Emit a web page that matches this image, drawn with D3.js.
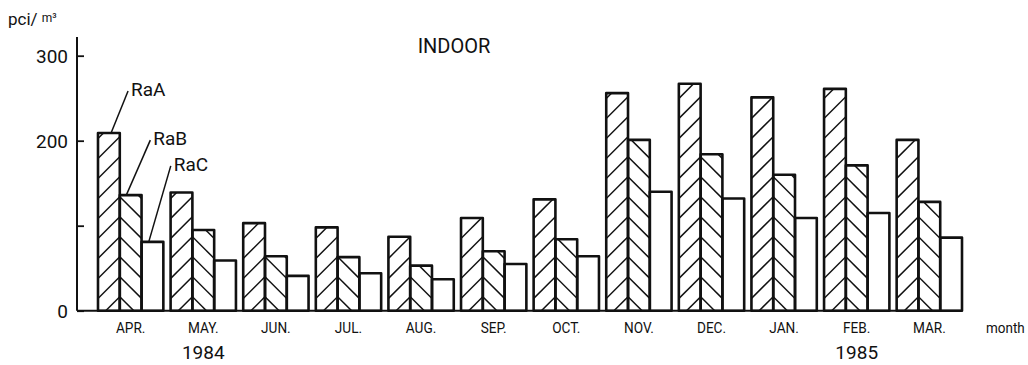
<!DOCTYPE html>
<html>
<head>
<meta charset="utf-8">
<script src="https://cdn.jsdelivr.net/npm/d3@7"></script>
<style>
  html, body { margin: 0; padding: 0; background: #fff; }
  svg { display: block; }
  text { font-family: Roboto, "Liberation Sans", sans-serif; fill: #111; }
</style>
</head>
<body>
<svg id="chart" width="1028" height="365"></svg>
<script>
// Monthly indoor concentrations of radon daughters (pCi/m³), Apr 1984 – Mar 1985
const months = ["APR.", "MAY.", "JUN.", "JUL.", "AUG.", "SEP.", "OCT.", "NOV.", "DEC.", "JAN.", "FEB.", "MAR."];
const series = ["RaA", "RaB", "RaC"];
const raA = [209, 139, 103, 98, 87, 109, 131, 256, 267, 251, 261, 201];
const raB = [136, 95, 64, 63, 53, 70, 84, 201, 184, 160, 171, 128];
const raC = [81, 59, 41, 44, 37, 55, 64, 140, 132, 109, 115, 86];
const yTicks = [0, 100, 200, 300];
const yTickLabels = ["0", "", "200", "300"];
const yearLabels = [{ month: "MAY.", text: "1984" }, { month: "FEB.", text: "1985" }];

const values = { RaA: raA, RaB: raB, RaC: raC };
const rows = months.flatMap((m, i) => series.map(s => ({ month: m, series: s, value: values[s][i] })));

const svg = d3.select("#chart");
const baseY = 310.7;

const x = d3.scaleBand().domain(months).range([98, 962]).paddingInner(0.1).paddingOuter(0);
const xs = d3.scaleBand().domain(series).range([0, x.bandwidth()]);
const y = d3.scaleLinear().domain([0, 300]).range([baseY, 55.7]);

// clip paths, one per bar, for the hatching
const defs = svg.append("defs");
rows.forEach((d, i) => {
  d.id = "bar" + i;
  d.x0 = x(d.month) + xs(d.series);
  d.w = xs.bandwidth();
  d.top = y(d.value);
  defs.append("clipPath").attr("id", d.id)
    .append("rect")
    .attr("x", d.x0).attr("y", d.top)
    .attr("width", d.w).attr("height", y(0) - d.top);
});

// white bar bodies
svg.append("g").selectAll("rect").data(rows).join("rect")
  .attr("x", d => d.x0).attr("y", d => d.top)
  .attr("width", d => d.w).attr("height", d => y(0) - d.top)
  .attr("fill", "#fff");

// hatching: RaA "/" and RaB "\" meet on their shared edge, forming chevrons
const gap = 20, phase = 14;
const hatch = svg.append("g").attr("stroke", "#111").attr("stroke-width", 1.5);
rows.filter(d => d.series !== "RaC").forEach(d => {
  const edge = x(d.month) + xs("RaB");
  const dir = d.series === "RaA" ? -1 : 1;
  const segs = [];
  for (let yk = y(0) - phase + gap; yk > d.top - d.w - gap; yk -= gap) {
    segs.push([edge, yk, edge + dir * (d.w + 4), yk + d.w + 4]);
  }
  hatch.append("g").attr("clip-path", `url(#${d.id})`)
    .selectAll("line").data(segs).join("line")
    .attr("x1", s => s[0]).attr("y1", s => s[1])
    .attr("x2", s => s[2]).attr("y2", s => s[3]);
});

// bar outlines
svg.append("g").selectAll("rect").data(rows).join("rect")
  .attr("x", d => d.x0).attr("y", d => d.top)
  .attr("width", d => d.w).attr("height", d => y(0) - d.top)
  .attr("fill", "none").attr("stroke", "#111").attr("stroke-width", 2.6)
  .attr("stroke-linejoin", "round");

// y axis: ticks point into the plot
const yAxis = svg.append("g").attr("transform", "translate(77,0)")
  .call(d3.axisRight(y).tickValues(yTicks).tickSize(7).tickFormat(() => ""));
yAxis.select(".domain").remove();
yAxis.selectAll(".tick line").attr("stroke", "#111").attr("stroke-width", 1.8);
svg.append("line").attr("x1", 77).attr("x2", 77).attr("y1", 37).attr("y2", y(0))
  .attr("stroke", "#111").attr("stroke-width", 2);
svg.append("g").selectAll("text").data(yTicks).join("text")
  .attr("x", 68).attr("y", d => y(d) + 7)
  .attr("text-anchor", "end").attr("font-size", 19)
  .text((d, i) => yTickLabels[i]);

// baseline
svg.append("line").attr("x1", 77).attr("x2", x.range()[1]).attr("y1", y(0)).attr("y2", y(0))
  .attr("stroke", "#111").attr("stroke-width", 2);

// month labels (tall, narrow lettering)
svg.append("g").selectAll("text").data(months).join("text")
  .attr("transform", d => `translate(${x(d) + x.bandwidth() / 2},333) scale(0.88,1)`)
  .attr("text-anchor", "middle").attr("font-size", 15.5)
  .text(d => d);
svg.append("text").attr("transform", "translate(986,333) scale(0.9,1)")
  .attr("font-size", 15).text("month");

// year labels
svg.append("g").selectAll("text").data(yearLabels).join("text")
  .attr("x", d => x(d.month) + x.bandwidth() / 2).attr("y", 359)
  .attr("text-anchor", "middle").attr("font-size", 19)
  .text(d => d.text);

// unit label
const unit = svg.append("text").attr("x", 8).attr("y", 25).attr("font-size", 17);
unit.append("tspan").text("pci/ ");
unit.append("tspan").attr("font-size", 12).attr("dy", -3).text("m³");

// title
svg.append("text").attr("x", 454).attr("y", 53).attr("text-anchor", "middle")
  .attr("font-size", 20).text("INDOOR");

// series labels with leader lines on the first month's bars
const leaders = [
  { series: "RaA", at: 0.6, dx: 17, dy: -42 },
  { series: "RaB", at: 0.3, dx: 24, dy: -55 },
  { series: "RaC", at: 0.33, dx: 22, dy: -76 }
];
const first = months[0];
leaders.forEach(l => {
  const v = values[l.series][0];
  const x1 = x(first) + xs(l.series) + xs.bandwidth() * l.at;
  const y1 = y(v);
  const x2 = x1 + l.dx, y2 = y1 + l.dy;
  svg.append("line").attr("x1", x1).attr("y1", y1).attr("x2", x2).attr("y2", y2)
    .attr("stroke", "#111").attr("stroke-width", 1.5);
  svg.append("text").attr("x", x2 + 3).attr("y", y2 + 5)
    .attr("font-size", 19).text(l.series);
});
</script>
</body>
</html>
